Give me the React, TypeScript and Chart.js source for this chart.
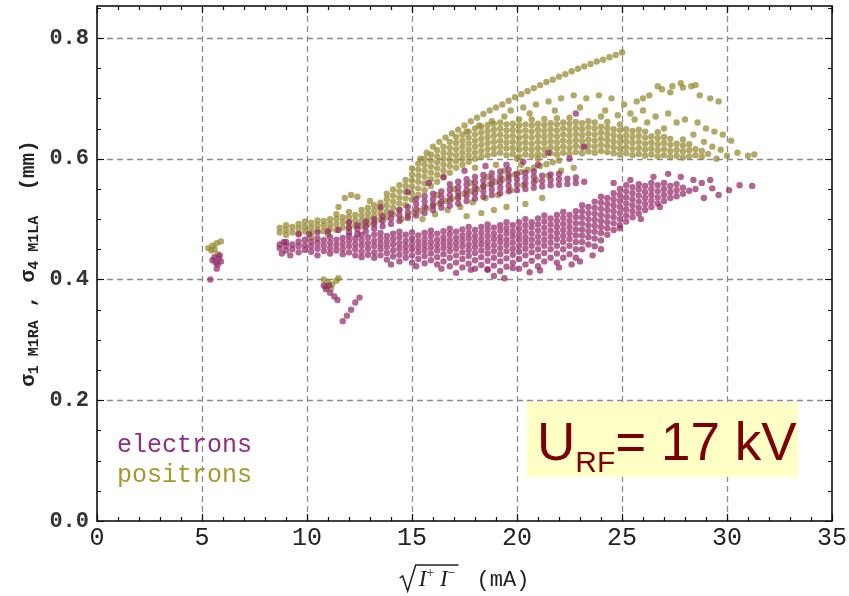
import React, { useEffect, useRef } from 'react';
import { Chart, registerables } from 'chart.js';

Chart.register(...registerables);

type Col = [number, number[]];
type Pt = [number, number];

// ---------- axes ----------
const xTicks = [0, 5, 10, 15, 20, 25, 30, 35];
const yTicks = [0, 0.2, 0.4, 0.6, 0.8];
const xRange = [0, 35];
const yRange = [0, 0.853];
const seriesNames = ['electrons', 'positrons'];
const annotationMain = 'U';
const annotationSub = 'RF';
const annotationRest = '= 17 kV';

// ---------- electrons ----------
const electronMainBand: Col[] = [
  [8.7, [0.452, 0.458]],
  [9.0, [0.448, 0.456, 0.462]],
  [9.3, [0.45, 0.458]],
  [9.6, [0.445, 0.455, 0.463]],
  [9.9, [0.449, 0.457, 0.466]],
  [10.2, [0.446, 0.455, 0.463]],
  [10.5, [0.44, 0.451, 0.46, 0.468]],
  [10.8, [0.447, 0.456, 0.465]],
  [11.1, [0.443, 0.452, 0.461, 0.47]],
  [11.4, [0.448, 0.457, 0.466]],
  [11.7, [0.442, 0.451, 0.46, 0.469]],
  [12.0, [0.445, 0.455, 0.464, 0.472]],
  [12.3, [0.44, 0.45, 0.459, 0.468]],
  [12.6, [0.437, 0.446, 0.456, 0.465, 0.474]],
  [12.9, [0.441, 0.451, 0.46, 0.47]],
  [13.2, [0.436, 0.445, 0.455, 0.464, 0.474]],
  [13.5, [0.44, 0.45, 0.459, 0.468, 0.477]],
  [13.8, [0.433, 0.444, 0.454, 0.463, 0.472]],
  [14.1, [0.438, 0.448, 0.458, 0.467, 0.476]],
  [14.4, [0.43, 0.441, 0.451, 0.46, 0.47, 0.479]],
  [14.7, [0.436, 0.446, 0.455, 0.464, 0.474]],
  [15.0, [0.428, 0.44, 0.45, 0.459, 0.468, 0.478]],
  [15.3, [0.434, 0.445, 0.454, 0.463, 0.473]],
  [15.6, [0.427, 0.439, 0.449, 0.458, 0.467, 0.477]],
  [15.9, [0.432, 0.443, 0.453, 0.462, 0.472, 0.481]],
  [16.2, [0.425, 0.437, 0.448, 0.457, 0.466, 0.476]],
  [16.5, [0.43, 0.442, 0.452, 0.461, 0.47, 0.48]],
  [16.8, [0.422, 0.436, 0.447, 0.456, 0.465, 0.475, 0.484]],
  [17.1, [0.428, 0.44, 0.451, 0.46, 0.469, 0.479]],
  [17.4, [0.42, 0.434, 0.445, 0.455, 0.464, 0.473, 0.483]],
  [17.7, [0.426, 0.439, 0.449, 0.458, 0.468, 0.477, 0.487]],
  [18.0, [0.418, 0.432, 0.444, 0.454, 0.463, 0.472, 0.482]],
  [18.3, [0.424, 0.437, 0.448, 0.458, 0.467, 0.477, 0.487]],
  [18.6, [0.416, 0.431, 0.443, 0.453, 0.462, 0.472, 0.482, 0.491]],
  [18.9, [0.423, 0.436, 0.447, 0.457, 0.467, 0.476, 0.486]],
  [19.2, [0.414, 0.43, 0.442, 0.452, 0.462, 0.471, 0.481, 0.49]],
  [19.5, [0.421, 0.435, 0.447, 0.457, 0.466, 0.476, 0.485, 0.495]],
  [19.8, [0.428, 0.441, 0.451, 0.461, 0.471, 0.48, 0.49]],
  [20.1, [0.418, 0.434, 0.446, 0.456, 0.466, 0.475, 0.485, 0.495]],
  [20.4, [0.425, 0.44, 0.451, 0.461, 0.47, 0.48, 0.49, 0.5]],
  [20.7, [0.431, 0.445, 0.456, 0.466, 0.476, 0.486, 0.495]],
  [21.0, [0.422, 0.438, 0.45, 0.461, 0.471, 0.481, 0.491, 0.501]],
  [21.3, [0.43, 0.444, 0.456, 0.466, 0.476, 0.486, 0.496, 0.506]],
  [21.6, [0.436, 0.45, 0.461, 0.471, 0.481, 0.491, 0.501]],
  [21.9, [0.428, 0.443, 0.456, 0.467, 0.477, 0.487, 0.497, 0.507]],
  [22.2, [0.436, 0.45, 0.462, 0.472, 0.482, 0.492, 0.502, 0.512]],
  [22.5, [0.442, 0.456, 0.467, 0.477, 0.487, 0.497, 0.507]],
  [22.8, [0.436, 0.45, 0.462, 0.473, 0.483, 0.493, 0.503, 0.513]],
  [23.1, [0.45, 0.462, 0.473, 0.483, 0.493, 0.503, 0.513, 0.523]],
  [23.4, [0.458, 0.47, 0.48, 0.49, 0.5, 0.51, 0.52]],
  [23.7, [0.455, 0.468, 0.479, 0.489, 0.499, 0.509, 0.519, 0.529]],
  [24.0, [0.465, 0.477, 0.487, 0.497, 0.507, 0.517, 0.527, 0.537]],
  [24.3, [0.474, 0.485, 0.495, 0.505, 0.515, 0.525, 0.535]],
  [24.6, [0.482, 0.493, 0.503, 0.513, 0.523, 0.533, 0.543]],
  [24.9, [0.49, 0.5, 0.51, 0.52, 0.53, 0.54, 0.55]],
  [25.2, [0.496, 0.506, 0.516, 0.526, 0.536, 0.546, 0.556]],
  [25.5, [0.503, 0.513, 0.523, 0.533, 0.543, 0.553]],
  [25.8, [0.509, 0.519, 0.529, 0.539, 0.549, 0.558]],
  [26.1, [0.515, 0.525, 0.535, 0.545, 0.555]],
  [26.4, [0.52, 0.53, 0.54, 0.55, 0.56]],
  [26.7, [0.526, 0.536, 0.546, 0.556]],
  [27.0, [0.53, 0.54, 0.55, 0.56]],
  [27.3, [0.535, 0.545, 0.555]],
  [27.6, [0.538, 0.548, 0.558]],
  [27.9, [0.542, 0.552]],
  [28.2, [0.547]],
];

const electronUpperBand: Col[] = [
  [12.0, [0.478, 0.486]],
  [12.4, [0.475, 0.483, 0.49]],
  [12.8, [0.48, 0.488, 0.496]],
  [13.2, [0.484, 0.492, 0.5]],
  [13.6, [0.488, 0.497, 0.505]],
  [14.0, [0.492, 0.501, 0.51]],
  [14.4, [0.497, 0.506, 0.515]],
  [14.8, [0.502, 0.511, 0.52]],
  [15.2, [0.506, 0.516, 0.525, 0.534]],
  [15.6, [0.51, 0.52, 0.529, 0.538]],
  [16.0, [0.515, 0.524, 0.533, 0.542]],
  [16.4, [0.519, 0.528, 0.537, 0.546]],
  [16.8, [0.522, 0.531, 0.54, 0.549, 0.558]],
  [17.2, [0.526, 0.535, 0.544, 0.553, 0.562]],
  [17.6, [0.53, 0.539, 0.548, 0.557, 0.566]],
  [18.0, [0.534, 0.543, 0.552, 0.561, 0.57]],
  [18.4, [0.537, 0.546, 0.555, 0.564, 0.573]],
  [18.8, [0.54, 0.549, 0.558, 0.567, 0.576]],
  [19.2, [0.543, 0.552, 0.561, 0.57, 0.579]],
  [19.6, [0.546, 0.555, 0.564, 0.573, 0.582]],
  [20.0, [0.548, 0.557, 0.566, 0.575]],
  [20.4, [0.55, 0.559, 0.568, 0.577]],
  [20.8, [0.552, 0.561, 0.57, 0.579]],
  [21.2, [0.554, 0.563, 0.572]],
  [21.6, [0.556, 0.565, 0.574]],
  [22.0, [0.557, 0.566, 0.575]],
  [22.4, [0.558, 0.567]],
  [22.8, [0.56, 0.569]],
  [23.2, [0.562]],
];

const electronScatter: Pt[] = [
  [5.5, 0.432], [5.65, 0.428], [5.8, 0.435], [5.9, 0.43], [5.75, 0.425], [5.6, 0.437],
  [5.7, 0.418], [5.4, 0.4], [5.85, 0.44],
  [10.9, 0.384], [11.1, 0.378], [11.3, 0.372], [11.45, 0.366], [11.7, 0.331], [11.9, 0.34],
  [12.1, 0.35], [12.3, 0.362], [12.5, 0.37], [10.8, 0.39], [11.05, 0.39],
  [8.8, 0.443], [9.2, 0.44], [9.6, 0.475], [10.1, 0.475], [8.9, 0.462],
  [17.1, 0.411], [17.8, 0.416], [18.6, 0.417], [18.9, 0.406], [19.8, 0.419], [16.4, 0.418],
  [15.2, 0.422], [14.0, 0.425], [20.6, 0.412], [21.1, 0.415], [22.0, 0.42], [22.6, 0.425],
  [23.0, 0.43], [24.0, 0.45], [23.6, 0.44], [19.4, 0.402],
  [28.5, 0.55], [28.8, 0.56], [29.3, 0.551], [29.6, 0.54], [30.1, 0.548], [30.6, 0.556],
  [31.2, 0.555], [28.4, 0.565], [27.8, 0.57], [28.9, 0.535], [29.2, 0.565], [26.5, 0.57],
  [27.2, 0.575], [25.4, 0.565], [24.6, 0.56], [26.8, 0.52], [25.9, 0.5], [24.9, 0.485],
  [16.5, 0.57], [17.5, 0.58], [18.5, 0.588], [19.5, 0.59], [20.3, 0.595], [21.0, 0.59],
  [15.8, 0.56], [14.8, 0.545], [13.5, 0.52], [12.0, 0.495], [11.5, 0.482], [11.0, 0.48],
  [10.5, 0.478], [22.5, 0.6], [23.2, 0.62], [21.5, 0.61], [22.8, 0.675],
];

// ---------- positrons ----------
const positronMainBand: Col[] = [
  [8.7, [0.478, 0.486]],
  [9.0, [0.474, 0.482, 0.49]],
  [9.3, [0.478, 0.487]],
  [9.6, [0.476, 0.484, 0.492]],
  [9.9, [0.48, 0.488, 0.496]],
  [10.2, [0.478, 0.486, 0.494]],
  [10.5, [0.482, 0.49, 0.498]],
  [10.8, [0.48, 0.489, 0.497]],
  [11.1, [0.484, 0.492, 0.5]],
  [11.4, [0.482, 0.491, 0.5, 0.508]],
  [11.7, [0.486, 0.495, 0.503]],
  [12.0, [0.485, 0.494, 0.503, 0.512]],
  [12.3, [0.489, 0.498, 0.507]],
  [12.6, [0.488, 0.497, 0.506, 0.515]],
  [12.9, [0.492, 0.501, 0.51, 0.519]],
  [13.2, [0.495, 0.505, 0.514, 0.523]],
  [13.5, [0.499, 0.509, 0.518, 0.527]],
  [13.8, [0.503, 0.513, 0.523, 0.533, 0.542]],
  [14.1, [0.508, 0.519, 0.529, 0.539, 0.549]],
  [14.4, [0.515, 0.526, 0.536, 0.546, 0.556]],
  [14.7, [0.523, 0.534, 0.545, 0.555, 0.565]],
  [15.0, [0.532, 0.543, 0.554, 0.564, 0.574, 0.584]],
  [15.3, [0.54, 0.551, 0.562, 0.572, 0.582, 0.592]],
  [15.6, [0.548, 0.559, 0.57, 0.58, 0.59, 0.6]],
  [15.9, [0.555, 0.566, 0.577, 0.587, 0.597, 0.607]],
  [16.2, [0.562, 0.573, 0.584, 0.594, 0.604, 0.614]],
  [16.5, [0.569, 0.58, 0.59, 0.6, 0.61, 0.62]],
  [16.8, [0.577, 0.588, 0.598, 0.608, 0.618, 0.628]],
  [17.1, [0.585, 0.596, 0.606, 0.616, 0.626, 0.636]],
  [17.4, [0.59, 0.6, 0.61, 0.62, 0.63, 0.64]],
  [17.7, [0.595, 0.605, 0.615, 0.625, 0.635, 0.645]],
  [18.0, [0.6, 0.61, 0.62, 0.63, 0.64, 0.65]],
  [18.3, [0.603, 0.613, 0.623, 0.633, 0.643, 0.653]],
  [18.6, [0.606, 0.616, 0.626, 0.636, 0.646, 0.656]],
  [18.9, [0.608, 0.618, 0.628, 0.638, 0.648, 0.658]],
  [19.2, [0.61, 0.62, 0.63, 0.64, 0.65, 0.66]],
  [19.5, [0.606, 0.617, 0.627, 0.637, 0.647, 0.657]],
  [19.8, [0.608, 0.618, 0.628, 0.638, 0.648, 0.658]],
  [20.1, [0.604, 0.615, 0.625, 0.635, 0.645, 0.655, 0.665]],
  [20.4, [0.607, 0.617, 0.627, 0.637, 0.647, 0.657]],
  [20.7, [0.605, 0.615, 0.625, 0.635, 0.645, 0.655, 0.665]],
  [21.0, [0.608, 0.618, 0.628, 0.638, 0.648, 0.658]],
  [21.3, [0.606, 0.616, 0.626, 0.636, 0.646, 0.656, 0.666]],
  [21.6, [0.609, 0.619, 0.629, 0.639, 0.649, 0.659]],
  [21.9, [0.607, 0.617, 0.627, 0.637, 0.647, 0.657, 0.667]],
  [22.2, [0.61, 0.62, 0.63, 0.64, 0.65, 0.66]],
  [22.5, [0.608, 0.618, 0.628, 0.638, 0.648, 0.658, 0.668]],
  [22.8, [0.611, 0.621, 0.631, 0.641, 0.651, 0.661]],
  [23.1, [0.609, 0.619, 0.629, 0.639, 0.649, 0.659]],
  [23.4, [0.612, 0.622, 0.632, 0.642, 0.652, 0.662]],
  [23.7, [0.61, 0.62, 0.63, 0.64, 0.65, 0.66]],
  [24.0, [0.613, 0.623, 0.633, 0.643, 0.653]],
  [24.3, [0.611, 0.621, 0.631, 0.641, 0.651, 0.661]],
  [24.6, [0.609, 0.619, 0.629, 0.639, 0.649]],
  [24.9, [0.607, 0.617, 0.627, 0.637, 0.647, 0.657]],
  [25.2, [0.609, 0.619, 0.629, 0.639, 0.649]],
  [25.5, [0.606, 0.616, 0.626, 0.636, 0.646]],
  [25.8, [0.608, 0.618, 0.628, 0.638, 0.648]],
  [26.1, [0.605, 0.615, 0.625, 0.635, 0.645]],
  [26.4, [0.607, 0.617, 0.627, 0.637]],
  [26.7, [0.604, 0.614, 0.624, 0.634, 0.644]],
  [27.0, [0.606, 0.616, 0.626, 0.636]],
  [27.3, [0.603, 0.613, 0.623, 0.633]],
  [27.6, [0.605, 0.615, 0.625]],
  [27.9, [0.602, 0.612, 0.622, 0.632]],
  [28.2, [0.604, 0.614, 0.624]],
  [28.5, [0.606, 0.616]],
  [28.8, [0.603, 0.613]],
  [29.1, [0.608]],
];

const positronInnerBand: Pt[] = [
  [14.5, 0.5], [14.8, 0.505], [15.1, 0.51], [15.4, 0.514], [15.7, 0.518], [16.0, 0.522],
  [16.3, 0.526], [16.6, 0.53], [16.9, 0.534], [17.2, 0.538], [17.5, 0.542], [17.8, 0.546],
  [18.1, 0.55], [18.4, 0.554], [18.7, 0.558], [19.0, 0.562], [19.3, 0.566], [19.6, 0.57],
  [19.9, 0.574], [20.2, 0.578], [20.5, 0.582], [20.8, 0.585], [21.1, 0.588], [21.4, 0.591],
  [21.7, 0.594], [22.0, 0.597],
  [15.5, 0.5], [16.1, 0.508], [16.7, 0.515], [17.3, 0.52], [17.9, 0.528], [18.5, 0.535],
  [19.1, 0.54], [19.7, 0.548], [20.3, 0.556], [20.9, 0.565], [21.5, 0.572], [22.1, 0.58],
  [22.7, 0.585],
  [16.2, 0.54], [17.0, 0.55], [17.8, 0.56], [18.6, 0.57], [19.4, 0.58], [20.2, 0.59],
  [21.0, 0.6], [18.0, 0.585], [19.0, 0.59], [20.0, 0.6],
  [18.3, 0.51], [18.9, 0.515], [19.5, 0.52], [20.4, 0.525], [17.6, 0.505], [21.2, 0.535],
];

const positronUpperArm: Pt[] = [
  [15.4, 0.6], [15.7, 0.61], [16.0, 0.62], [16.3, 0.628], [16.6, 0.635], [16.9, 0.642],
  [17.2, 0.648], [17.5, 0.655], [17.8, 0.662], [18.1, 0.668], [18.4, 0.674], [18.7, 0.68],
  [19.0, 0.685], [19.3, 0.69], [19.6, 0.696], [19.9, 0.702], [20.2, 0.707], [20.5, 0.712],
  [20.8, 0.717], [21.1, 0.722], [21.4, 0.727], [21.7, 0.731], [22.0, 0.736], [22.3, 0.74],
  [22.6, 0.745], [22.9, 0.749], [23.2, 0.753], [23.5, 0.757], [23.8, 0.761], [24.1, 0.764],
  [24.4, 0.768], [24.7, 0.772], [25.0, 0.776],
];

const positronScatter: Pt[] = [
  [5.3, 0.452], [5.5, 0.456], [5.7, 0.46], [5.9, 0.463], [5.45, 0.448], [5.75, 0.442], [5.6, 0.45],
  [10.8, 0.4], [11.0, 0.396], [11.2, 0.392], [11.4, 0.398], [11.5, 0.402], [10.9, 0.388], [11.15, 0.385],
  [11.8, 0.535], [12.1, 0.54], [12.4, 0.537], [11.5, 0.52], [13.0, 0.53], [10.2, 0.47], [11.0, 0.475],
  [17.6, 0.645], [18.2, 0.655], [18.8, 0.662], [19.4, 0.67], [19.7, 0.68], [20.3, 0.685],
  [20.9, 0.69], [21.5, 0.695], [22.1, 0.7], [22.7, 0.705], [23.3, 0.7], [23.9, 0.705],
  [24.5, 0.7], [25.1, 0.69], [25.7, 0.695], [26.3, 0.705], [26.9, 0.715], [27.4, 0.72],
  [27.8, 0.725], [28.3, 0.72], [28.7, 0.705], [29.2, 0.7], [29.6, 0.695], [20.6, 0.675],
  [21.8, 0.68], [23.0, 0.685], [24.2, 0.68], [25.4, 0.675], [26.0, 0.68], [26.6, 0.67],
  [27.2, 0.675], [27.6, 0.66], [28.0, 0.665], [28.6, 0.66], [29.0, 0.65], [29.4, 0.645],
  [29.8, 0.64], [30.2, 0.63], [28.4, 0.64], [27.0, 0.65], [26.2, 0.66], [25.6, 0.665],
  [24.8, 0.672], [24.0, 0.67], [30.0, 0.605], [30.5, 0.61], [31.0, 0.605], [31.3, 0.607],
  [29.7, 0.615], [29.3, 0.62], [28.9, 0.628], [29.5, 0.6],
  [26.7, 0.72], [27.3, 0.71], [27.9, 0.718], [28.5, 0.722], [26.0, 0.7],
];

const expand = (cols: Col[]) => cols.flatMap(([x, ys]) => ys.map((y) => ({ x, y })));
const pts = (list: Pt[]) => list.map(([x, y]) => ({ x, y }));

const electronData = [...expand(electronMainBand), ...expand(electronUpperBand), ...pts(electronScatter)];
const positronData = [...expand(positronMainBand), ...pts(positronInnerBand), ...pts(positronUpperArm), ...pts(positronScatter)];

const ELECTRON_COLOR = 'rgba(148, 42, 106, 0.72)';
const POSITRON_COLOR = 'rgba(148, 136, 46, 0.72)';
const ELECTRON_TEXT = '#8e2c88';
const POSITRON_TEXT = '#a8982c';

const MONO = '"Liberation Mono", "DejaVu Sans Mono", monospace';

const decorPlugin = {
  id: 'decor',
  beforeDatasetsDraw(chart: any) {
    const { ctx, chartArea: a, scales } = chart;
    const xs = scales.x;
    const ys = scales.y;
    ctx.save();
    ctx.strokeStyle = '#8c8c8c';
    ctx.lineWidth = 1.3;
    ctx.setLineDash([6, 4]);
    for (const v of xTicks) {
      if (v <= xRange[0] || v >= xRange[1]) continue;
      const px = Math.round(xs.getPixelForValue(v)) + 0.5;
      ctx.beginPath();
      ctx.moveTo(px, a.top);
      ctx.lineTo(px, a.bottom);
      ctx.stroke();
    }
    for (const v of yTicks) {
      if (v <= yRange[0] || v >= yRange[1]) continue;
      const py = Math.round(ys.getPixelForValue(v)) + 0.5;
      ctx.beginPath();
      ctx.moveTo(a.left, py);
      ctx.lineTo(a.right, py);
      ctx.stroke();
    }
    ctx.restore();
  },
  afterDatasetsDraw(chart: any) {
    const { ctx, chartArea: a, scales } = chart;
    const xs = scales.x;
    const ys = scales.y;
    ctx.save();

    // annotation box
    const bx0 = xs.getPixelForValue(20.48);
    const bx1 = xs.getPixelForValue(33.38);
    const by0 = ys.getPixelForValue(0.197);
    const by1 = ys.getPixelForValue(0.073);
    ctx.fillStyle = '#ffffc6';
    ctx.fillRect(bx0, by0, bx1 - bx0, by1 - by0);
    ctx.fillStyle = '#7d0000';
    ctx.textBaseline = 'alphabetic';
    ctx.textAlign = 'left';
    let tx = bx0 + 10;
    const base = by0 + 58;
    ctx.font = '53px "Liberation Sans", Arial, sans-serif';
    ctx.fillText(annotationMain, tx, base);
    tx += ctx.measureText(annotationMain).width;
    ctx.font = '30px "Liberation Sans", Arial, sans-serif';
    ctx.fillText(annotationSub, tx, base + 12);
    tx += ctx.measureText(annotationSub).width;
    ctx.font = '53px "Liberation Sans", Arial, sans-serif';
    ctx.fillText(annotationRest, tx, base);

    // legend text
    ctx.font = `25px ${MONO}`;
    ctx.fillStyle = ELECTRON_TEXT;
    ctx.fillText(seriesNames[0], a.left + 20, 452);
    ctx.fillStyle = POSITRON_TEXT;
    ctx.fillText(seriesNames[1], a.left + 20, 482);

    // frame
    ctx.setLineDash([]);
    ctx.strokeStyle = '#111';
    ctx.lineWidth = 1.6;
    ctx.strokeRect(a.left, a.top, a.right - a.left, a.bottom - a.top);

    // ticks (inward, all four sides)
    ctx.lineWidth = 1.2;
    ctx.beginPath();
    for (let i = 0; i <= 35; i++) {
      const px = Math.round(xs.getPixelForValue(i)) + 0.5;
      const len = i % 5 === 0 ? 7 : 4;
      ctx.moveTo(px, a.bottom);
      ctx.lineTo(px, a.bottom - len);
      ctx.moveTo(px, a.top);
      ctx.lineTo(px, a.top + len);
    }
    for (let i = 0; i <= 17; i++) {
      const v = i * 0.05;
      const py = Math.round(ys.getPixelForValue(v)) + 0.5;
      const len = i % 4 === 0 ? 7 : 4;
      ctx.moveTo(a.left, py);
      ctx.lineTo(a.left + len, py);
      ctx.moveTo(a.right, py);
      ctx.lineTo(a.right - len, py);
    }
    ctx.stroke();

    // y-axis title (rotated)
    ctx.save();
    ctx.translate(34, (a.top + a.bottom) / 2);
    ctx.rotate(-Math.PI / 2);
    ctx.fillStyle = '#222';
    const mainF = `bold 21px ${MONO}`;
    const subF = `bold 15px ${MONO}`;
    const segs: [string, string, number][] = [
      ['σ', mainF, 0],
      ['1 M1RA', subF, 4],
      [' , ', mainF, 0],
      ['σ', mainF, 0],
      ['4 M1LA', subF, 4],
      ['  (mm)', mainF, 0],
    ];
    let total = 0;
    for (const [t, f] of segs) {
      ctx.font = f;
      total += ctx.measureText(t).width;
    }
    let sx = -total / 2;
    for (const [t, f, dy] of segs) {
      ctx.font = f;
      ctx.fillText(t, sx, dy);
      sx += ctx.measureText(t).width;
    }
    ctx.restore();

    // x-axis title: sqrt(I+ I-)  (mA)
    const cx = (a.left + a.right) / 2;
    const baseY = 586;
    const iFont = 'italic 23px "Liberation Serif", "DejaVu Serif", serif';
    const supFont = '14px "Liberation Serif", serif';
    const unitFont = `22px ${MONO}`;
    ctx.font = iFont;
    const wI = ctx.measureText('I').width;
    ctx.font = supFont;
    const wPlus = ctx.measureText('+').width;
    const wMinus = ctx.measureText('\u2212').width;
    ctx.font = iFont;
    const wSp = ctx.measureText(' ').width;
    const radW = 16;
    const innerW = 3 + wI + wPlus + wSp + wI + wMinus + 3;
    ctx.font = unitFont;
    const unitText = '(mA)';
    const wUnit = ctx.measureText(unitText).width;
    const gap = 18;
    const totalW = radW + innerW + gap + wUnit;
    const ox = cx - totalW / 2;
    ctx.strokeStyle = '#222';
    ctx.lineWidth = 1.5;
    ctx.beginPath();
    ctx.moveTo(ox, baseY - 8);
    ctx.lineTo(ox + 3, baseY - 10);
    ctx.lineTo(ox + 8, baseY + 5);
    ctx.lineTo(ox + radW, baseY - 21);
    ctx.lineTo(ox + radW + innerW, baseY - 21);
    ctx.stroke();
    ctx.fillStyle = '#222';
    let ix = ox + radW + 3;
    ctx.font = iFont;
    ctx.fillText('I', ix, baseY);
    ix += wI;
    ctx.font = supFont;
    ctx.fillText('+', ix, baseY - 9);
    ix += wPlus + wSp;
    ctx.font = iFont;
    ctx.fillText('I', ix, baseY);
    ix += wI;
    ctx.font = supFont;
    ctx.fillText('\u2212', ix, baseY - 9);
    ctx.font = unitFont;
    ctx.fillText(unitText, ox + radW + innerW + gap, baseY);

    ctx.restore();
  },
};

export default function App() {
  const canvasRef = useRef<HTMLCanvasElement | null>(null);

  useEffect(() => {
    const canvas = canvasRef.current;
    if (!canvas) return;
    const chart = new Chart(canvas, {
      type: 'scatter',
      data: {
        datasets: [
          {
            label: seriesNames[0],
            data: electronData,
            backgroundColor: ELECTRON_COLOR,
            borderWidth: 0,
            pointRadius: 3.2,
          },
          {
            label: seriesNames[1],
            data: positronData,
            backgroundColor: POSITRON_COLOR,
            borderWidth: 0,
            pointRadius: 3.2,
          },
        ],
      },
      options: {
        responsive: false,
        animation: false,
        events: [],
        layout: { padding: { top: 6, right: 17, left: 0, bottom: 0 } },
        plugins: {
          legend: { display: false },
          tooltip: { enabled: false },
        },
        scales: {
          x: {
            type: 'linear',
            min: xRange[0],
            max: xRange[1],
            afterBuildTicks: (scale: any) => {
              scale.ticks = xTicks.map((v) => ({ value: v }));
            },
            afterFit: (scale: any) => {
              scale.height = 75;
              scale.paddingLeft = 0;
              scale.paddingRight = 0;
            },
            grid: { display: false, drawTicks: false },
            border: { display: false },
            ticks: {
              padding: 2,
              color: '#222',
              font: { family: MONO, size: 25 },
              maxRotation: 0,
              callback: (v: any) => String(v),
            },
          },
          y: {
            type: 'linear',
            min: yRange[0],
            max: yRange[1],
            afterBuildTicks: (scale: any) => {
              scale.ticks = yTicks.map((v) => ({ value: v }));
            },
            afterFit: (scale: any) => {
              scale.width = 97;
              scale.paddingTop = 0;
              scale.paddingBottom = 0;
            },
            grid: { display: false, drawTicks: false },
            border: { display: false },
            ticks: {
              padding: 8,
              color: '#333',
              font: { family: MONO, size: 22, weight: 'bold' },
              callback: (v: any) => Number(v).toFixed(1),
            },
          },
        },
      },
      plugins: [decorPlugin],
    });
    return () => chart.destroy();
  }, []);

  return (
    <div style={{ position: 'absolute', left: 0, top: 0, width: 849, height: 596, background: '#fff' }}>
      <canvas ref={canvasRef} width={849} height={596} style={{ display: 'block', width: 849, height: 596 }} />
    </div>
  );
}
